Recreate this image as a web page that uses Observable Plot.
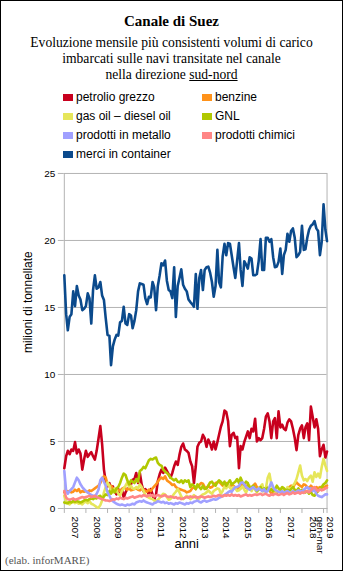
<!DOCTYPE html>
<html><head><meta charset="utf-8">
<script src="https://cdn.jsdelivr.net/npm/d3@7"></script>
<script src="https://cdn.jsdelivr.net/npm/@observablehq/plot@0.6"></script>
<style>
html,body{margin:0;padding:0;background:#fff;}
#wrap{position:relative;width:343px;height:571px;box-sizing:border-box;border:1px solid #000;overflow:hidden;background:#fff;}
.serif{position:absolute;left:0;width:341px;text-align:center;font-family:"Liberation Serif","Times New Roman",serif;color:#000;white-space:nowrap;}
#title{top:11px;font-size:15px;font-weight:bold;line-height:18px;}
#sub{top:34px;font-size:13.6px;line-height:16px;}
.leg{position:absolute;display:flex;align-items:center;font-family:"Liberation Sans",Arial,sans-serif;font-size:12px;line-height:14px;color:#000;white-space:nowrap;}
.sw{width:10px;height:7px;margin-right:3px;}
#credit{position:absolute;left:4px;top:553px;font-family:"Liberation Serif","Times New Roman",serif;font-size:11px;line-height:13px;color:#555;}
#chart{position:absolute;left:-1px;top:159px;}
</style></head>
<body>
<div id="wrap">
  <div id="title" class="serif">Canale di Suez</div>
  <div id="sub" class="serif">Evoluzione mensile più consistenti volumi di carico<br>imbarcati sulle navi transitate nel canale<br>nella direzione <u>sud-nord</u></div>
  <div id="legend"></div>
  <div id="chart"></div>
  <div id="credit">(elab. inforMARE)</div>
</div>
<script>
const seriesNames = ["petrolio grezzo","benzine","gas oil – diesel oil","GNL","prodotti in metallo","prodotti chimici","merci in container"];
const seriesColors = ["#c8001e","#ff921a","#e6e65a","#b0c800","#a0a0ff","#ff8686","#0b4a8c"];
const years = ["2007","2008","2009","2010","2011","2012","2013","2014","2015","2016","2017","2018","2019"];
const yearLabels = ["2007","2008","2009","2010","2011","2012","2013","2014","2015","2016","2017","2018","2019\ngen-mar"];
const yTicks = [0,5,10,15,20,25];

// milioni di tonnellate, gennaio 2007 - marzo 2019
const petrolioGrezzo = [
3.0,3.9,4.3,4.05,4.4,4.3,4.95,4.1,4.4,4.1,2.9,3.65,
4.3,3.85,4.05,4.2,3.9,3.65,4.3,5.2,6.15,4.8,2.9,2.0,
1.65,1.9,1.3,1.65,1.3,1.05,1.45,1.05,1.45,0.8,1.2,1.45,
1.55,1.8,2.15,2.2,2.65,1.9,2.65,1.8,1.3,1.45,1.3,1.05,
1.45,1.05,0.65,1.05,2.05,2.55,2.9,2.65,3.05,2.8,2.55,2.3,
2.65,3.15,3.5,3.25,4.0,4.6,4.85,4.4,4.3,4.15,3.5,3.15,
1.9,3.15,4.6,4.9,5.0,5.5,5.25,4.6,5.15,4.85,4.4,5.0,
4.4,4.95,5.5,6.1,6.5,7.3,7.2,6.5,4.65,5.5,5.65,5.25,
5.35,3.0,4.65,4.4,4.95,5.35,5.75,5.25,5.95,5.75,6.7,5.0,
5.25,5.1,5.25,5.95,6.85,7.1,6.5,5.25,6.5,6.75,5.25,7.25,
6.05,6.25,5.95,5.85,6.4,6.65,6.5,5.95,5.25,4.35,5.5,5.95,
6.2,5.25,6.05,6.35,5.1,7.6,6.85,6.05,6.65,5.95,3.9,4.4,
4.75,3.8,4.25];
const benzine = [
1.2,1.35,1.25,1.3,1.2,1.25,1.4,1.3,1.45,1.2,1.3,1.25,
1.3,1.2,1.35,1.3,1.4,1.5,1.6,1.7,1.9,2.2,2.4,2.3,
1.8,1.65,1.7,1.5,1.3,1.35,1.4,1.3,1.45,1.55,1.5,1.4,
1.5,1.35,1.4,1.45,1.5,1.4,1.35,1.45,1.4,1.3,1.25,1.4,
1.3,1.5,1.65,1.8,2.0,2.2,2.3,2.2,2.4,2.1,2.0,1.9,
1.75,1.8,1.6,1.5,1.45,1.4,1.35,1.3,1.2,1.25,1.3,1.5,
1.6,1.45,1.7,1.75,1.9,1.85,1.6,1.5,1.7,1.55,1.6,1.75,
1.9,1.95,2.0,1.85,1.7,1.8,1.9,1.75,1.6,1.8,1.7,1.5,
1.45,1.6,1.5,1.9,1.7,1.55,1.8,1.6,1.5,1.7,1.85,1.6,
1.5,1.6,1.45,1.3,1.5,1.4,1.35,1.1,1.2,1.3,1.15,1.3,
1.4,1.2,1.35,1.3,1.5,1.6,1.7,1.55,1.8,1.95,1.8,1.7,
1.6,1.8,1.75,1.6,1.5,1.7,1.55,1.4,1.6,1.5,1.6,1.55,
1.6,1.65,1.7];
const gasOil = [
0.95,0.55,0.4,0.3,0.45,0.5,0.4,0.45,0.35,0.4,0.3,0.45,
0.5,0.4,0.55,0.35,0.3,0.2,0.1,0.05,0.25,0.6,1.2,1.6,
1.95,1.7,1.3,1.2,1.5,1.35,1.1,0.95,1.3,1.5,1.7,1.95,
1.6,1.7,1.5,1.45,1.6,1.5,1.8,1.6,1.3,1.0,0.9,0.8,
0.75,0.7,0.6,0.55,0.65,0.8,0.95,1.1,1.05,0.85,0.65,0.7,
0.9,1.1,1.25,1.45,1.2,0.9,0.7,0.8,0.95,0.85,0.7,0.8,
1.0,0.8,0.7,0.75,0.95,1.05,1.1,1.2,1.35,1.2,1.1,1.3,
1.4,1.5,1.45,1.1,1.3,1.65,1.5,1.8,1.55,1.4,1.6,1.5,
1.3,1.35,1.5,1.65,1.4,1.2,1.5,1.7,1.3,1.55,1.4,1.2,
1.5,1.65,1.8,1.3,1.5,2.3,2.6,1.8,1.5,1.2,1.3,1.3,
1.4,1.3,1.5,1.35,1.6,1.45,1.5,1.7,1.9,2.2,2.7,3.2,
2.45,2.1,2.2,2.05,2.3,2.45,2.0,2.7,2.35,2.6,2.3,3.1,
3.7,3.2,2.8];
const gnl = [
0.45,0.4,0.4,0.5,0.45,0.55,0.5,0.55,0.5,0.45,0.5,0.6,
0.65,0.6,0.7,0.75,0.7,0.8,0.75,0.9,0.95,0.7,0.9,1.05,
1.0,1.3,1.1,1.4,1.2,1.5,1.6,1.9,2.3,2.6,2.5,2.1,
1.8,2.1,2.0,1.9,2.2,2.0,2.8,2.9,3.1,3.0,3.3,3.6,
3.7,3.65,3.75,3.8,3.4,3.25,3.2,2.9,2.75,2.65,2.5,2.3,
2.2,2.1,2.2,2.0,1.95,2.1,1.9,2.1,2.0,2.1,1.6,1.8,
1.7,1.45,1.8,1.6,1.45,1.7,1.45,1.5,1.7,1.95,2.0,1.8,
1.7,1.95,2.1,2.0,1.8,2.0,1.7,1.9,2.1,1.8,1.9,2.0,
2.2,1.9,2.3,1.95,1.8,2.0,1.9,1.45,1.6,1.7,1.5,1.3,
1.4,1.6,1.3,1.5,1.4,1.55,1.35,1.45,1.3,1.4,1.7,1.5,
1.4,1.6,1.5,1.35,1.4,1.3,1.45,1.6,1.4,1.3,1.5,1.25,
1.4,1.35,1.2,1.3,1.1,1.25,1.0,0.95,1.15,1.3,1.5,1.6,
1.8,1.9,2.1];
const prodottiMetallo = [
2.8,1.3,1.1,1.3,1.45,1.6,1.95,2.3,2.1,1.8,1.6,1.45,
1.3,1.2,1.1,1.0,0.95,0.9,1.1,1.4,2.1,2.3,2.0,1.7,
1.2,0.95,0.7,0.55,0.45,0.35,0.3,0.25,0.3,0.25,0.2,0.3,
0.25,0.3,0.35,0.3,0.45,0.5,0.55,0.5,0.6,0.5,0.45,0.4,
0.35,0.3,0.4,0.45,0.55,0.5,0.45,0.5,0.4,0.45,0.35,0.4,
0.35,0.3,0.4,0.35,0.45,0.4,0.35,0.3,0.4,0.35,0.45,0.4,
0.5,0.55,0.6,0.5,0.45,0.55,0.6,0.5,0.55,0.6,0.65,0.7,
0.65,0.7,0.8,0.85,0.95,1.0,1.1,1.2,1.3,1.25,1.45,1.6,
1.6,1.7,1.9,1.95,1.8,1.6,1.5,1.4,1.5,1.6,1.45,1.35,
1.5,1.4,1.3,1.45,1.2,1.3,1.6,1.95,1.6,1.4,1.3,1.25,
1.2,1.3,1.15,1.25,1.3,1.2,1.15,1.3,1.2,1.25,1.35,1.3,
1.25,1.4,1.5,1.6,1.45,1.5,1.3,1.4,1.1,0.95,0.9,0.85,
0.95,1.05,1.05];
const prodottiChimici = [
1.3,0.8,0.7,0.65,0.7,0.75,0.65,0.7,0.75,0.8,0.85,0.8,
0.85,0.9,0.95,0.85,0.9,0.95,0.85,0.8,0.75,0.7,0.65,0.6,
0.6,0.55,0.6,0.7,0.65,0.75,0.7,0.8,0.75,0.7,0.8,0.75,
0.8,0.85,0.9,0.8,0.85,0.9,0.95,0.9,1.0,0.95,0.9,1.0,
0.95,1.0,0.9,0.95,1.0,0.95,0.9,0.95,1.0,0.9,0.85,0.9,
0.85,0.8,0.85,0.75,0.8,0.7,0.75,0.8,0.85,0.8,0.9,0.85,
0.85,0.9,0.8,0.85,0.9,0.85,0.8,0.85,0.9,0.85,0.9,0.95,
0.9,0.95,1.0,0.95,0.9,1.0,0.95,1.0,0.95,1.05,0.95,1.0,
0.95,1.0,0.9,0.95,1.0,1.05,0.95,1.0,0.95,1.0,1.05,1.0,
1.05,1.1,1.0,1.05,1.1,1.0,0.95,1.05,1.0,1.1,1.05,1.0,
1.05,1.1,1.0,1.1,1.15,1.05,1.1,1.2,1.1,1.15,1.2,1.1,
1.2,1.15,1.25,1.3,1.2,1.35,1.5,1.6,1.4,1.3,1.45,1.35,
1.4,1.5,1.55];
const merciContainer = [
17.4,14.5,13.3,14.3,14.5,16.2,15.1,16.6,15.9,15.6,14.8,14.9,
15.1,16.05,15.7,13.8,16.3,17.4,16.4,16.5,16.9,15.9,15.55,14.2,
12.95,12.9,10.7,12.1,12.6,12.95,12.9,13.9,14.0,15.05,13.8,13.7,
14.5,14.4,13.45,14.0,14.8,16.2,16.8,16.75,16.7,15.7,15.25,15.8,
15.75,16.9,16.5,14.8,16.6,17.4,18.3,18.15,18.5,17.0,16.3,16.2,
15.7,18.0,14.3,16.6,17.2,17.85,16.7,16.4,16.2,15.6,15.4,15.25,
15.05,17.5,14.9,17.2,17.8,16.3,17.8,18.0,18.05,17.6,16.9,15.8,
16.6,19.3,16.9,16.5,18.8,19.75,18.9,19.8,19.75,18.9,18.0,17.2,
18.5,19.8,17.8,16.6,18.45,18.2,17.9,18.75,18.65,17.4,17.4,17.5,
18.5,20.1,17.8,17.8,20.2,20.2,19.9,20.1,18.75,18.0,18.05,18.4,
19.4,17.5,18.9,19.3,20.5,19.9,20.7,20.9,20.2,18.75,18.9,19.15,
21.1,19.3,19.35,20.2,20.8,21.1,21.2,21.45,20.9,20.7,18.9,19.9,
22.7,20.8,19.95];

const seriesValues = [petrolioGrezzo, benzine, gasOil, gnl, prodottiMetallo, prodottiChimici, merciContainer];

// legend
const legend = document.getElementById("legend");
seriesNames.forEach((name, i) => {
  const col = i % 2, row = Math.floor(i / 2);
  const el = document.createElement("div");
  el.className = "leg";
  el.style.left = (col === 0 ? 62 : 201) + "px";
  el.style.top = (89 + row * 19) + "px";
  el.innerHTML = `<div class="sw" style="background:${seriesColors[i]}"></div><span>${name}</span>`;
  legend.appendChild(el);
});

// data
const nMonths = merciContainer.length;
const months = d3.range(nMonths).map(i => new Date(Date.UTC(+years[0], i, 1)));
const data = [];
seriesNames.forEach((name, s) => seriesValues[s].forEach((v, i) => data.push({series: name, date: months[i], value: v})));

const xStart = months[0], xEnd = months[nMonths - 1];
const xTicks = years.map(y => new Date(Date.UTC(+y, 0, 1))).concat([xEnd]);
const yearLabelData = years.map((y, i) => {
  const a = new Date(Date.UTC(+y, 0, 1));
  const b = i + 1 < years.length ? new Date(Date.UTC(+y + 1, 0, 1)) : xEnd;
  return {date: new Date((+a + +b) / 2), label: yearLabels[i]};
});

const chart = Plot.plot({
  width: 343,
  height: 400,
  marginTop: 13,
  marginBottom: 51,
  marginLeft: 64,
  marginRight: 15.5,
  style: {fontFamily: "'Liberation Sans', Arial, sans-serif", fontSize: "10px", color: "#000", background: "transparent", overflow: "visible"},
  x: {type: "utc", domain: [xStart, xEnd]},
  y: {domain: [0, 25]},
  marks: [
    Plot.gridY({ticks: yTicks.filter(t => t > 0 && t < 25), stroke: "#b3b3b3", strokeOpacity: 1}),
    Plot.frame({stroke: "#b3b3b3"}),
    Plot.axisY({ticks: yTicks, tickSize: 6, tickPadding: 3, stroke: "#b3b3b3", label: null, fontSize: 10}),
    Plot.axisX({ticks: xTicks, tickSize: 5, stroke: "#b3b3b3", tickFormat: () => "", label: null}),
    Plot.text(yearLabelData, {x: "date", text: "label", frameAnchor: "bottom", rotate: 90, dy: 8, textAnchor: "start", lineAnchor: "middle", fontSize: 10}),
    ...seriesNames.map((name, s) => Plot.line(data.filter(d => d.series === name), {x: "date", y: "value", stroke: seriesColors[s], strokeWidth: 2.6})),
    Plot.text(["milioni di tonnellate"], {text: d => d, frameAnchor: "left", dx: -36, dy: 12, rotate: -90, fontSize: 12}),
    Plot.text(["anni"], {text: d => d, frameAnchor: "bottom", dx: -9, dy: 40, fontSize: 13})
  ]
});
document.getElementById("chart").appendChild(chart);
</script>
</body></html>
